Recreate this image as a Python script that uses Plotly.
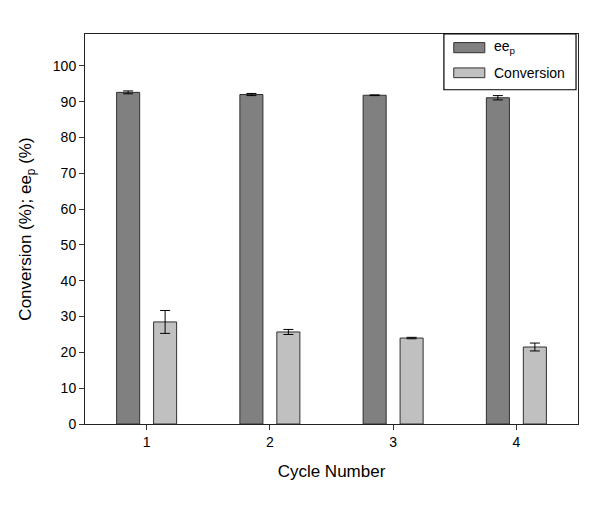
import plotly.graph_objects as go

cycles = [1, 2, 3, 4]
ee_values = [92.6, 92.0, 91.8, 91.1]
ee_errors = [0.4, 0.3, 0.1, 0.6]
conv_values = [28.5, 25.7, 24.0, 21.5]
conv_errors = [3.2, 0.7, 0.2, 1.1]
y_ticks = [0, 10, 20, 30, 40, 50, 60, 70, 80, 90, 100]
series_names = ["ee<sub>p</sub>", "Conversion"]
series_colors = ["#808080", "#c0c0c0"]

fig = go.Figure()
fig.add_trace(go.Bar(
    x=cycles, y=ee_values, name=series_names[0], showlegend=False,
    marker=dict(color=series_colors[0], line=dict(color="#303030", width=1)),
    error_y=dict(type="data", array=ee_errors, color="black", thickness=1, width=5),
))
fig.add_trace(go.Bar(
    x=cycles, y=conv_values, name=series_names[1], showlegend=False,
    marker=dict(color=series_colors[1], line=dict(color="#303030", width=1)),
    error_y=dict(type="data", array=conv_errors, color="black", thickness=1, width=5),
))

font = "Liberation Sans, Arial, sans-serif"

# legend drawn as a framed box with swatches and text labels
shapes = [dict(type="rect", xref="paper", yref="paper",
               x0=0.728, x1=0.996, y0=0.857, y1=1.0,
               line=dict(color="black", width=1.2), fillcolor="white", layer="above")]
annotations = []
sw_y = [(0.952, 0.978), (0.888, 0.913)]
txt_y = [0.967, 0.901]
for i in range(2):
    shapes.append(dict(type="rect", xref="paper", yref="paper",
                       x0=0.748, x1=0.811, y0=sw_y[i][0], y1=sw_y[i][1],
                       line=dict(color="#303030", width=1), fillcolor=series_colors[i],
                       layer="above"))
    annotations.append(dict(xref="paper", yref="paper", x=0.825, y=txt_y[i],
                            xanchor="left", yanchor="middle", showarrow=False,
                            text=series_names[i], font=dict(size=14, family=font)))

fig.update_layout(
    width=600, height=505,
    margin=dict(l=77, r=30, t=26, b=89),
    paper_bgcolor="white", plot_bgcolor="white",
    barmode="group", bargap=0.4, bargroupgap=0.377,
    font=dict(family=font, color="black", size=14),
    xaxis=dict(range=[0.5, 4.5], tickvals=cycles, ticks="outside", ticklen=5,
               tickcolor="#333", showline=True, linecolor="#222", linewidth=1,
               mirror=True, showgrid=False, zeroline=False, automargin=False,
               title=dict(text="Cycle Number", font=dict(size=17), standoff=16),
               tickfont=dict(size=14)),
    yaxis=dict(range=[0, 108.9], tickvals=y_ticks, ticks="outside", ticklen=5,
               tickcolor="#333", showline=True, linecolor="#222", linewidth=1,
               mirror=True, showgrid=False, zeroline=False, automargin=False,
               title=dict(text="Conversion (%); ee<sub>p</sub> (%)", font=dict(size=17), standoff=16),
               tickfont=dict(size=14)),
    shapes=shapes,
    annotations=annotations,
)

fig.write_html("out.html")
